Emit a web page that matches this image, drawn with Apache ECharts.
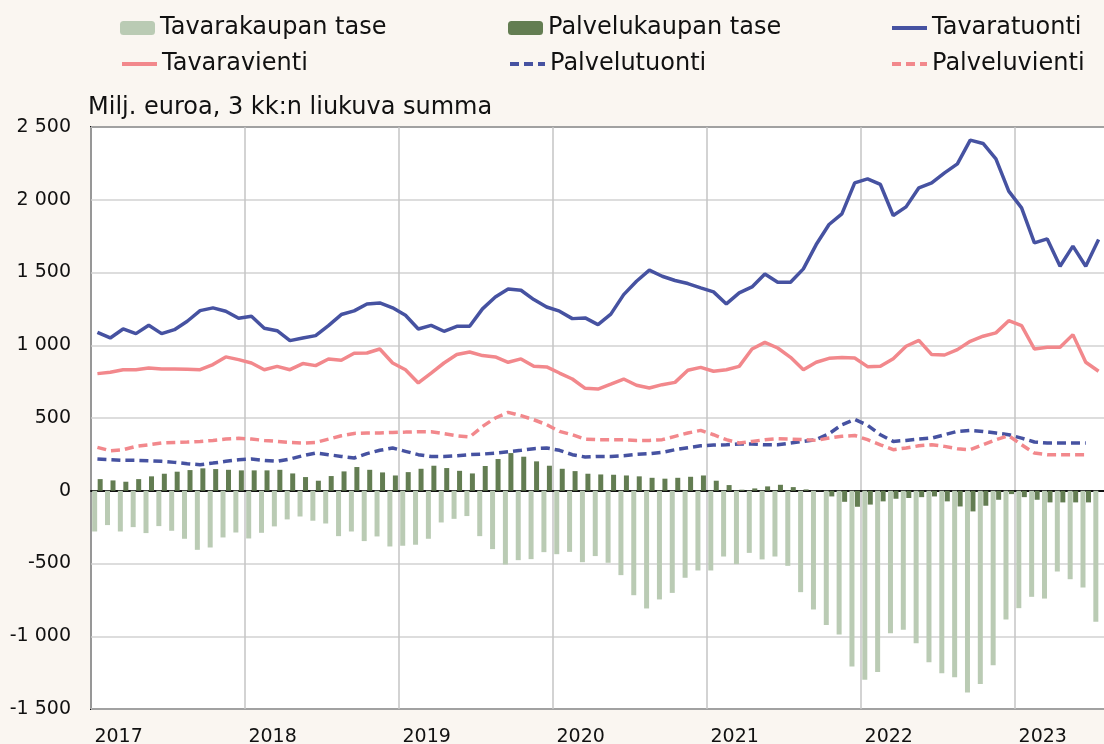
<!DOCTYPE html>
<html>
<head>
<meta charset="utf-8">
<script src="https://cdn.jsdelivr.net/npm/echarts@6/dist/echarts.min.js"></script>
<style>
  html, body { margin: 0; padding: 0; background: #faf6f1; }
  #chart { width: 1104px; height: 744px; }
</style>
</head>
<body>
<div id="chart"></div>
<script>
// kuukaudet 2017-01 ... 2023-07
const years = [2017, 2018, 2019, 2020, 2021, 2022, 2023];
const months = [];
years.forEach(function (y) {
  for (let m = 1; m <= 12; m++) {
    if (y === 2023 && m > 7) break;
    months.push(y + '-' + (m < 10 ? '0' + m : m));
  }
});

const yTicks = [-1500, -1000, -500, 0, 500, 1000, 1500, 2000, 2500];

const tavaratuonti = [
  1089, 1050, 1112, 1080, 1137, 1080, 1107, 1165, 1238, 1257, 1234, 1185,
  1199, 1117, 1100, 1032, 1050, 1066, 1135, 1211, 1236, 1284, 1291, 1257,
  1206, 1112, 1137, 1096, 1130, 1130, 1250, 1332, 1387, 1378, 1314, 1263,
  1234, 1183, 1188, 1142, 1214, 1348, 1440, 1516, 1474, 1445, 1424, 1394,
  1367, 1284, 1360, 1401, 1490, 1433, 1433, 1525, 1692, 1830, 1903, 2116,
  2144, 2105, 1892, 1951, 2082, 2116, 2185, 2247, 2410, 2387, 2281, 2059,
  1944, 1704, 1731, 1543, 1681, 1543, 1727
];
const tavaravienti = [
  805, 814, 832, 832, 844, 837, 837, 835, 832, 867, 920, 901,
  878, 832, 855, 832, 874, 860, 906, 897, 945, 947, 974, 878,
  832, 741, 809, 878, 936, 954, 929, 920, 883, 906, 855, 851,
  809, 768, 704, 699, 733, 768, 725, 706, 729, 745, 828, 848,
  821, 832, 855, 974, 1020, 981, 917, 832, 883, 910, 915, 912,
  853, 855, 908, 993, 1034, 936, 933, 970, 1027, 1062, 1085, 1169,
  1135, 974, 986, 986, 1073, 883, 821
];
const palveluvienti = [
  298, 275, 282, 305, 316, 328, 332, 335, 339, 346, 355, 360,
  355, 346, 339, 332, 328, 332, 355, 378, 394, 397, 397, 401,
  403, 406, 406, 392, 378, 369, 442, 500, 539, 516, 488, 454,
  408, 385, 355, 351, 351, 351, 346, 346, 351, 374, 397, 415,
  385, 351, 328, 339, 351, 358, 355, 351, 346, 362, 374, 380,
  351, 316, 282, 294, 309, 316, 305, 289, 282, 316, 351, 378,
  316, 259, 248, 248, 248, 248, null
];
const palvelutuonti = [
  218, 213, 209, 209, 206, 202, 195, 186, 179, 190, 202, 213,
  218, 209, 202, 218, 241, 259, 248, 236, 225, 255, 278, 294,
  271, 248, 236, 236, 241, 248, 252, 259, 268, 278, 289, 294,
  278, 248, 232, 236, 236, 241, 250, 255, 264, 282, 296, 309,
  314, 316, 321, 321, 316, 316, 328, 339, 351, 392, 454, 490,
  450, 385, 339, 346, 355, 362, 385, 408, 415, 408, 397, 385,
  362, 335, 328, 328, 328, 328, null
];
const tavarakaupanTase = [
  -280, -236, -280, -250, -291, -243, -275, -330, -406, -390, -321, -287,
  -328, -289, -245, -197, -177, -206, -225, -312, -280, -346, -314, -383,
  -378, -371, -330, -218, -193, -174, -312, -401, -507, -477, -470, -422,
  -436, -420, -491, -449, -495, -580, -718, -809, -747, -702, -598, -548,
  -548, -452, -504, -427, -472, -452, -516, -697, -816, -922, -988, -1208,
  -1299, -1245, -979, -956, -1048, -1179, -1254, -1282, -1387, -1328, -1199, -885,
  -807, -729, -741, -555, -608, -665, -901
];
const palvelukaupanTase = [
  80, 71, 62, 80, 99, 117, 131, 142, 154, 149, 144, 140,
  140, 140, 144, 119, 94, 69, 101, 133, 163, 144, 126, 105,
  128, 151, 172, 156, 137, 119, 170, 218, 259, 234, 202, 172,
  151, 135, 117, 112, 110, 105, 99, 89, 83, 89, 96, 105,
  69, 39, 7, 16, 30, 41, 25, 9, -2, -39, -76, -110,
  -95, -73, -55, -50, -44, -39, -73, -108, -142, -103, -62, -23,
  -44, -62, -80, -80, -80, -80, null
];

const font = 'DejaVu Sans';
const colors = {
  tavaraTase: '#bacbb4',
  palveluTase: '#637d52',
  tuonti: '#4652a1',
  vienti: '#f2888c'
};

// yksi legenda per kohta, viivoille ei pistettä
function legendAt (name, left, top, isLine) {
  let lg = {
    data: [name],
    left: left,
    top: top,
    padding: 0,
    itemWidth: 35,
    itemHeight: 14,
    selectedMode: false,
    textStyle: { fontFamily: font, fontSize: 24, color: '#111' }
  };
  if (isLine) {
    lg.itemStyle = { opacity: 0 };
    lg.lineStyle = { width: 4 };
  }
  return lg;
}

function fmt (v) {
  let s = String(Math.abs(v));
  if (s.length > 3) s = s.slice(0, s.length - 3) + ' ' + s.slice(s.length - 3);
  return (v < 0 ? '-' : '') + s;
}

const chart = echarts.init(document.getElementById('chart'));
chart.setOption({
  animation: false,
  backgroundColor: '#faf6f1',
  title: {
    text: 'Milj. euroa, 3 kk:n liukuva summa',
    left: 88,
    top: 96,
    padding: 0,
    textStyle: { fontFamily: font, fontSize: 24, fontWeight: 'normal', color: '#111' }
  },
  legend: [
    legendAt('Tavarakaupan tase', 120, 16, false),
    legendAt('Palvelukaupan tase', 508, 16, false),
    legendAt('Tavaratuonti', 890, 16, true),
    legendAt('Tavaravienti', 120, 52, true),
    legendAt('Palvelutuonti', 508, 52, true),
    legendAt('Palveluvienti', 890, 52, true)
  ],
  grid: {
    left: 91,
    top: 127,
    width: 1014,
    bottom: 35,
    outerBoundsMode: 'none',
    containLabel: false,
    show: true,
    backgroundColor: '#fff',
    borderColor: '#111',
    borderWidth: 2
  },
  xAxis: [
    {
      type: 'category',
      data: months,
      position: 'bottom',
      axisLine: { onZero: true, lineStyle: { color: '#111', width: 2 } },
      axisTick: { inside: true, interval: 0, length: 5, lineStyle: { color: '#111', width: 1 } },
      axisLabel: { show: false },
      splitLine: { show: false }
    },
    {
      type: 'category',
      data: months,
      position: 'bottom',
      axisLine: { onZero: false, show: false },
      axisTick: { show: false, interval: function (i) { return i % 12 === 0; } },
      axisLabel: {
        interval: function (i) { return i % 12 === 0; },
        formatter: function (v) { return v.slice(0, 4); },
        align: 'left',
        padding: [0, 0, 0, -3],
        margin: 19,
        fontFamily: font,
        fontSize: 19,
        color: '#111'
      },
      splitLine: {
        show: true,
        interval: function (i) { return i % 12 === 0; },
        lineStyle: { color: '#c4c4c4', width: 1.5 }
      }
    },
    {
      type: 'category',
      data: months,
      position: 'bottom',
      axisLine: { onZero: true, show: false },
      axisTick: { inside: true, interval: function (i) { return i % 12 === 0; }, length: 8, lineStyle: { color: '#111', width: 1.5 } },
      axisLabel: { show: false },
      splitLine: { show: false }
    }
  ],
  yAxis: {
    type: 'value',
    min: yTicks[0],
    max: yTicks[yTicks.length - 1],
    interval: 500,
    axisLine: { show: false },
    axisTick: { show: false },
    axisLabel: {
      margin: 20,
      fontFamily: font,
      fontSize: 19,
      color: '#111',
      formatter: fmt
    },
    splitLine: { lineStyle: { color: '#d2d2d2', width: 1.5 } }
  },
  series: [
    {
      name: 'Tavarakaupan tase',
      type: 'bar',
      data: tavarakaupanTase,
      barWidth: 5,
      barGap: '10%',
      itemStyle: { color: colors.tavaraTase }
    },
    {
      name: 'Palvelukaupan tase',
      type: 'bar',
      data: palvelukaupanTase,
      barWidth: 5,
      barGap: '10%',
      itemStyle: { color: colors.palveluTase }
    },
    {
      name: 'Tavaratuonti',
      type: 'line',
      data: tavaratuonti,
      symbol: 'none',
      z: 5,
      lineStyle: { color: colors.tuonti, width: 3.5 },
      itemStyle: { color: colors.tuonti }
    },
    {
      name: 'Tavaravienti',
      type: 'line',
      data: tavaravienti,
      symbol: 'none',
      z: 5,
      lineStyle: { color: colors.vienti, width: 3.5 },
      itemStyle: { color: colors.vienti }
    },
    {
      name: 'Palvelutuonti',
      type: 'line',
      data: palvelutuonti,
      symbol: 'none',
      z: 5,
      lineStyle: { color: colors.tuonti, width: 3.5, type: [9, 5] },
      itemStyle: { color: colors.tuonti }
    },
    {
      name: 'Palveluvienti',
      type: 'line',
      data: palveluvienti,
      symbol: 'none',
      z: 5,
      lineStyle: { color: colors.vienti, width: 3.5, type: [9, 5] },
      itemStyle: { color: colors.vienti }
    }
  ]
});
</script>
</body>
</html>
